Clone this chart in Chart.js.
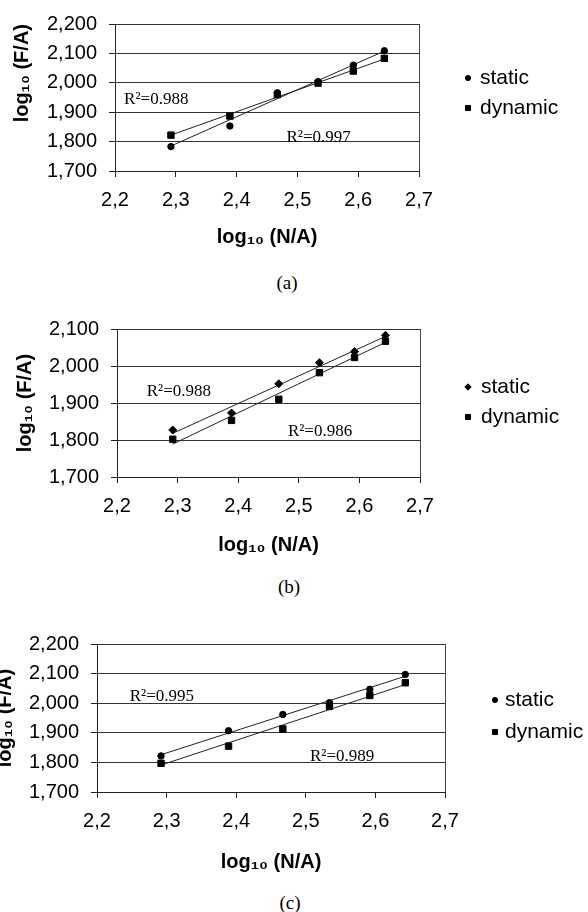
<!DOCTYPE html>
<html>
<head>
<meta charset="utf-8">
<script src="https://cdn.jsdelivr.net/npm/chart.js@4.4.1/dist/chart.umd.min.js"></script>
<style>
  html, body { margin: 0; padding: 0; background: #fff; }
  body { width: 588px; height: 912px; position: relative; overflow: hidden; }
  canvas { position: absolute; }
  .caption {
    position: absolute;
    font-family: "Liberation Serif", "Times New Roman", serif;
    font-size: 19px;
    color: #000;
    transform: translate(-50%, -50%);
  }
</style>
</head>
<body>
<canvas id="chartA" width="588" height="260" style="left:0px;top:0px"></canvas>
<canvas id="chartB" width="588" height="260" style="left:0px;top:305px"></canvas>
<canvas id="chartC" width="608" height="260" style="left:-20px;top:620px"></canvas>
<div class="caption" style="left:287px;top:283px">(a)</div>
<div class="caption" style="left:289px;top:587px">(b)</div>
<div class="caption" style="left:290px;top:903px">(c)</div>
<script>
// log10(N/A) values, shared by all three panels
const logNA = [2.292, 2.389, 2.467, 2.534, 2.592, 2.643];
const xTickLabels = ['2,2', '2,3', '2,4', '2,5', '2,6', '2,7'];
const yTickLabels = ['1,700', '1,800', '1,900', '2,000', '2,100', '2,200'];
const seriesNames = ['static', 'dynamic'];

// panel (a)
const staticA = [1.783, 1.853, 1.966, 2.004, 2.060, 2.109];
const dynamicA = [1.822, 1.887, 1.960, 1.999, 2.040, 2.083];
const trendStaticA = [1.785, 2.108];
const trendDynamicA = [1.822, 2.081];
const r2A = ['R²=0.988', 'R²=0.997'];

// panel (b)
const staticB = [1.827, 1.873, 1.952, 2.009, 2.039, 2.083];
const dynamicB = [1.802, 1.853, 1.910, 1.982, 2.023, 2.067];
const trendStaticB = [1.818, 2.080];
const trendDynamicB = [1.789, 2.064];
const r2B = ['R²=0.988', 'R²=0.986'];

// panel (c)
const staticC = [1.822, 1.907, 1.962, 2.002, 2.047, 2.097];
const dynamicC = [1.797, 1.855, 1.913, 1.989, 2.026, 2.069];
const trendStaticC = [1.826, 2.091];
const trendDynamicC = [1.791, 2.063];
const r2C = ['R²=0.995', 'R²=0.989'];

const SANS = '"Liberation Sans", Arial, "DejaVu Sans", sans-serif';
const INK = '#000';

function pts(xs, ys) {
  return ys.map((y, i) => ({ x: xs[i], y: y }));
}
function trend(ys) {
  return pts([logNA[0], logNA[logNA.length - 1]], ys);
}

// R² labels and the legend, drawn on top of the plot
const notesPlugin = {
  id: 'notes',
  afterDraw(chart, args, opts) {
    const { ctx, scales: { x, y } } = chart;
    ctx.save();
    ctx.fillStyle = INK;
    ctx.strokeStyle = INK;
    ctx.font = '17px "Liberation Serif", "Times New Roman", serif';
    ctx.textAlign = 'left';
    ctx.textBaseline = 'alphabetic';
    opts.r2.forEach(n => {
      ctx.fillText(n.text, x.getPixelForValue(n.at[0]), y.getPixelForValue(n.at[1]));
    });
    ctx.font = '21px ' + SANS;
    ctx.textBaseline = 'middle';
    opts.legend.forEach(it => {
      Chart.helpers.drawPoint(ctx, { pointStyle: it.style, radius: it.r, rotation: 0, borderWidth: 1 }, it.mx, it.y);
      ctx.fillText(it.text, it.tx, it.y);
    });
    ctx.restore();
  }
};

function makePanel(id, p) {
  new Chart(document.getElementById(id), {
    type: 'scatter',
    data: {
      datasets: [
        { label: seriesNames[0], data: pts(logNA, p.stat), pointStyle: p.statStyle, pointRadius: p.statR,
          backgroundColor: INK, borderColor: INK, borderWidth: 1 },
        { label: seriesNames[1], data: pts(logNA, p.dyn), pointStyle: 'rect', pointRadius: 4.5,
          backgroundColor: INK, borderColor: INK, borderWidth: 1 },
        { type: 'line', data: trend(p.tStat), borderColor: '#222', borderWidth: 1, pointRadius: 0, fill: false },
        { type: 'line', data: trend(p.tDyn), borderColor: '#222', borderWidth: 1, pointRadius: 0, fill: false }
      ]
    },
    options: {
      responsive: false,
      animation: false,
      layout: { padding: { left: 0, top: p.top, right: p.W - p.right, bottom: 0 } },
      plugins: {
        legend: { display: false },
        tooltip: { enabled: false },
        notes: { r2: p.r2, legend: p.legend }
      },
      scales: {
        x: {
          type: 'linear', min: 2.2, max: 2.7,
          ticks: { stepSize: 0.1, autoSkip: false, maxRotation: 0, padding: 11, color: INK,
                   font: { family: SANS, size: 20 }, callback: (v, i) => xTickLabels[i] },
          grid: { color: c => c.index === xTickLabels.length - 1 ? '#444' : 'transparent',
                  tickColor: '#222', tickLength: 6 },
          border: { color: '#222', width: 1 },
          title: { display: true, text: 'log₁₀ (N/A)', color: INK,
                   font: { family: SANS, size: 20, weight: 'bold' },
                   padding: { top: 0, bottom: p.xTitlePad } },
          afterFit: s => { s.height = p.H - p.bottom; }
        },
        y: {
          type: 'linear', min: 1.7, max: p.yMax,
          ticks: { stepSize: 0.1, autoSkip: false, padding: 12, color: INK,
                   font: { family: SANS, size: 20 }, callback: (v, i) => yTickLabels[i] },
          grid: { color: '#333', tickColor: '#222', tickLength: 6 },
          border: { color: '#222', width: 1 },
          title: { display: true, text: 'log₁₀ (F/A)', color: INK, align: p.yAlign,
                   font: { family: SANS, size: 20, weight: 'bold' },
                   padding: { top: p.yTitlePad, bottom: 0 } },
          afterFit: s => { s.width = p.left; }
        }
      }
    },
    plugins: [notesPlugin]
  });
}

// layout numbers are in canvas coordinates
makePanel('chartA', {
  W: 588, H: 260, left: 115, right: 419, top: 20, bottom: 171,
  yMax: 2.2, yAlign: 'end', yTitlePad: 10, xTitlePad: 11,
  stat: staticA, dyn: dynamicA, tStat: trendStaticA, tDyn: trendDynamicA,
  statStyle: 'circle', statR: 3.2,
  r2: [{ text: r2A[0], at: [2.215, 1.927] }, { text: r2A[1], at: [2.482, 1.798] }],
  legend: [
    { text: seriesNames[0], style: 'circle', r: 2.6, mx: 468, tx: 480, y: 78 },
    { text: seriesNames[1], style: 'rect', r: 3.6, mx: 468, tx: 480, y: 108 }
  ]
});

makePanel('chartB', {
  W: 588, H: 260, left: 117, right: 420, top: 22, bottom: 172,
  yMax: 2.1, yAlign: 'center', yTitlePad: 13, xTitlePad: 8,
  stat: staticB, dyn: dynamicB, tStat: trendStaticB, tDyn: trendDynamicB,
  statStyle: 'rectRot', statR: 4,
  r2: [{ text: r2B[0], at: [2.249, 1.918] }, { text: r2B[1], at: [2.482, 1.811] }],
  legend: [
    { text: seriesNames[0], style: 'rectRot', r: 3.2, mx: 468, tx: 481, y: 82 },
    { text: seriesNames[1], style: 'rect', r: 3.6, mx: 468, tx: 481, y: 112 }
  ]
});

makePanel('chartC', {
  W: 608, H: 260, left: 117, right: 465, top: 21.5, bottom: 172,
  yMax: 2.2, yAlign: 'center', yTitlePad: 13, xTitlePad: 6,
  stat: staticC, dyn: dynamicC, tStat: trendStaticC, tDyn: trendDynamicC,
  statStyle: 'circle', statR: 3.2,
  r2: [{ text: r2C[0], at: [2.247, 2.008] }, { text: r2C[1], at: [2.506, 1.806] }],
  legend: [
    { text: seriesNames[0], style: 'circle', r: 2.6, mx: 515, tx: 525, y: 80 },
    { text: seriesNames[1], style: 'rect', r: 3.6, mx: 515, tx: 525, y: 112 }
  ]
});
</script>
</body>
</html>
